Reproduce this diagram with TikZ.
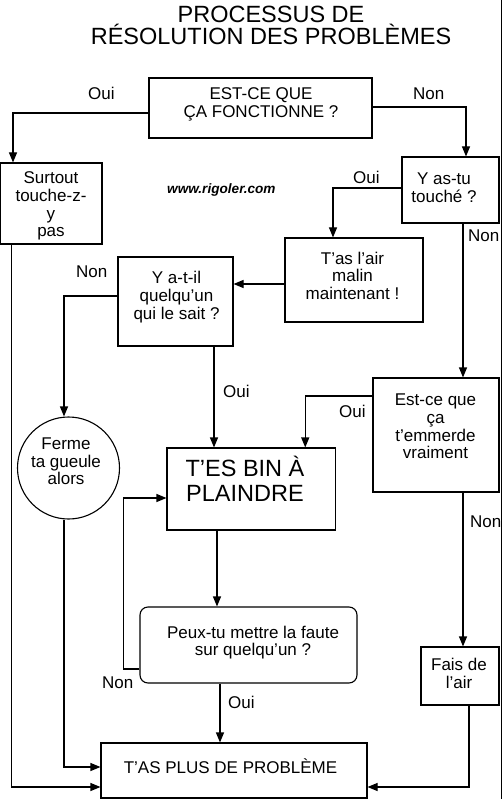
\documentclass[tikz,border=0pt]{standalone}
\usepackage{fontspec}
\setmainfont{Liberation Sans}
\usetikzlibrary{arrows.meta}
\begin{document}
\begin{tikzpicture}[x=1pt,y=-1pt,
  box/.style={draw,line width=1.1pt,inner sep=0pt},
  txt/.style={align=center,inner sep=0pt,font=\fontsize{17}{17.8}\selectfont},
  lbl/.style={anchor=base west,inner sep=0pt,font=\fontsize{17}{17}\selectfont},
  arr/.style={line width=1.1pt,-{Triangle[length=10pt,width=8pt]}},
  ln/.style={line width=1.1pt}]
\useasboundingbox (0,0) rectangle (503,799);
% title
\node[align=center,inner sep=0pt,font=\fontsize{23.5}{22}\selectfont] (title) at (271,25.6) {PROCESSUS DE\\RÉSOLUTION DES PROBLÈMES};
\node[anchor=base west,inner sep=0pt,font=\fontsize{13.6}{14}\selectfont\bfseries\itshape] (web) at (167,194) {www.rigoler.com};
% boxes
\node[box,minimum width=223,minimum height=60] (q1) at (260.5,108) {};
\node[txt] (q1t) at (261,104.7) {EST-CE QUE\\ÇA FONCTIONNE ?};
\node[box,minimum width=101.4,minimum height=81] (surt) at (51.3,203.5) {};
\node[txt] (surtt) at (51,206.1) {Surtout\\touche-z-\\y\\pas};
\node[box,minimum width=97,minimum height=66] (yas) at (450.5,190) {};
\node[txt] (yast) at (444,187.4) {Y as-tu\\touché ?};
\node[box,minimum width=138,minimum height=84] (tas) at (354,280) {};
\node[txt] (tast) at (352.5,275.8) {T’as l’air\\malin\\maintenant !};
\node[box,minimum width=115,minimum height=89] (yat) at (175.5,301.5) {};
\node[txt] (yatt) at (176.5,297) {Y a-t-il\\quelqu’un\\qui le sait ?};
\node[box,circle,minimum size=102] (ferme) at (68.5,468) {};
\node[txt] (fermet) at (66,461.4) {Ferme\\ta gueule\\alors};
\node[box,minimum width=126,minimum height=114] (estce) at (436,435) {};
\node[txt] (estcet) at (435.5,426.4) {Est-ce que\\ça\\t’emmerde\\vraiment};
\node[box,minimum width=168.5,minimum height=82] (bin) at (251.25,489) {};
\node[txt,font=\fontsize{23.5}{25}\selectfont] (bint) at (245,478.9) {T’ES BIN À\\PLAINDRE};
\node[box,rounded corners=8pt,minimum width=217,minimum height=76] (peux) at (248.5,645) {};
\node[txt] (peuxt) at (253,642.6) {Peux-tu mettre la faute\\sur quelqu’un ?};
\node[box,minimum width=78,minimum height=58] (fais) at (460,676) {};
\node[txt] (faist) at (459,673.8) {Fais de\\l’air};
\node[box,minimum width=266,minimum height=55] (plus) at (234,770.5) {};
\node[txt,anchor=base] (plust) at (230.5,773) {T’AS PLUS DE PROBLÈME};
% connectors
\draw[arr] ([yshift=-5pt]q1.west) -| ([xshift=-38.3pt]surt.north);
\draw[arr] ([yshift=1pt]q1.east) -| ([xshift=15.5pt]yas.north);
\draw[arr] ([yshift=2pt]yas.west) -| ([xshift=-21pt]tas.north);
\draw[arr] ([xshift=12.5pt]yas.south) -- ([xshift=27pt]estce.north);
\draw[arr] ([yshift=-4pt]tas.west) -- ([yshift=-4pt]tas.west -| yat.east);
\draw[arr] ([yshift=5.5pt]yat.west) -| ([xshift=-4.5pt]ferme.north);
\draw[arr] ([xshift=38.5pt]yat.south) -- ([xshift=-37.25pt]bin.north);
\draw[arr] ([yshift=39pt]estce.west) -| ([xshift=54pt]bin.north);
\draw[arr] ([xshift=-34.25pt]bin.south) -- ([xshift=-31.5pt]peux.north);
\draw[arr] ([yshift=-24pt]peux.west) -- ++(-16,0) |- ([yshift=-9pt]bin.west);
\draw[arr] ([xshift=-28.5pt]peux.south) -- ([xshift=-14pt]plus.north);
\draw[arr] ([xshift=-4.5pt]ferme.south) |- ([yshift=3.5pt]plus.west);
\draw[arr] ([xshift=-39.8pt]surt.south) |- ([yshift=-16.5pt]plus.west);
\draw[arr] ([xshift=9pt]fais.south) |- ([yshift=-16.5pt]plus.east);
\draw[arr] ([xshift=27pt]estce.south) -- ([xshift=3pt]fais.north);
% right edge line
\coordinate (edgeT) at (501.8,0);
\coordinate (edgeB) at (501.8,799);
\draw[ln] (edgeT) -- (edgeB);
% labels
\node[lbl] (l1) at (88,100) {Oui};
\node[lbl] (l2) at (413,100) {Non};
\node[lbl] (l3) at (353,184) {Oui};
\node[lbl] (l4) at (468,242) {Non};
\node[lbl] (l5) at (76,277) {Non};
\node[lbl] (l6) at (223,397) {Oui};
\node[lbl] (l7) at (339,417) {Oui};
\node[lbl] (l8) at (470,527) {Non};
\node[lbl] (l9) at (102,688) {Non};
\node[lbl] (l10) at (228,708) {Oui};
\end{tikzpicture}
\end{document}
